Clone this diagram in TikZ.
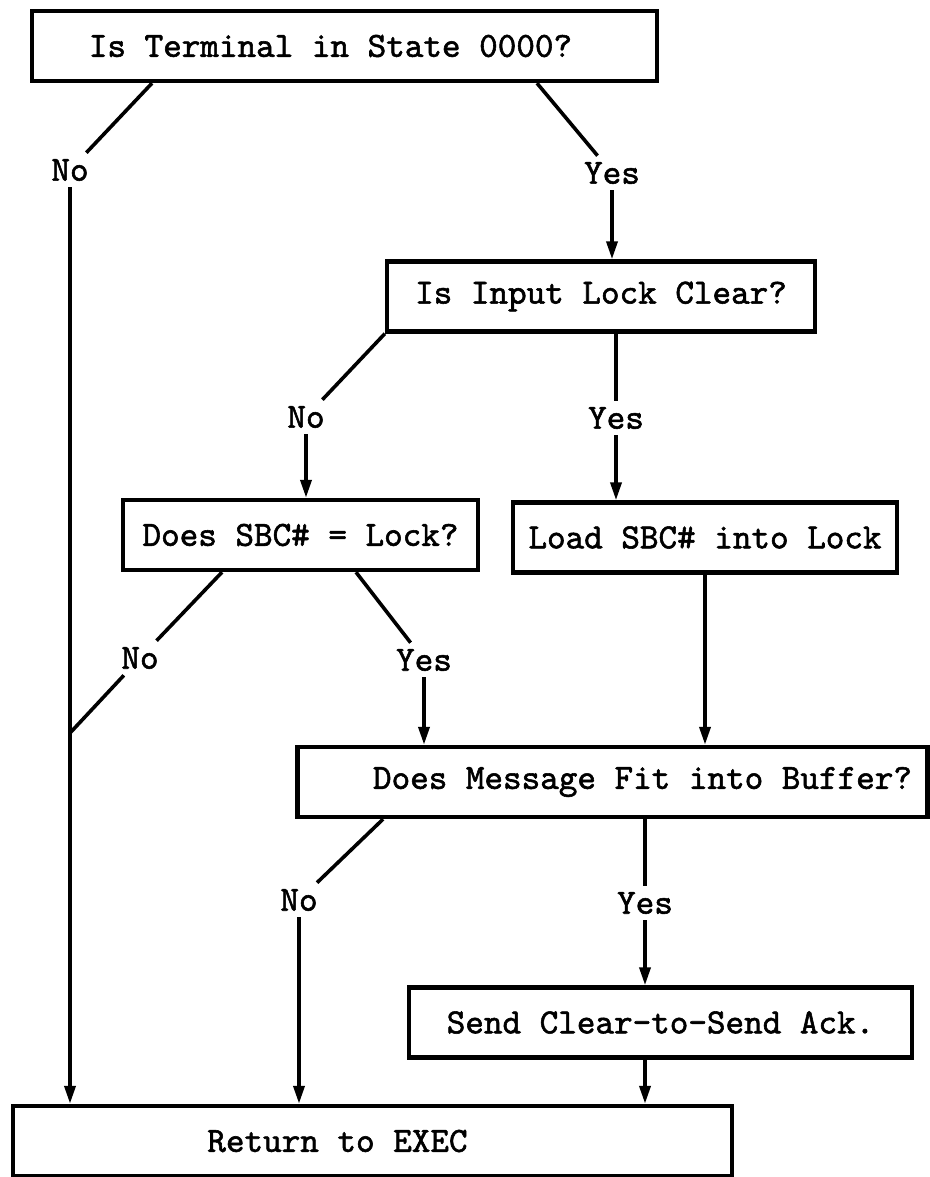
\documentclass[tikz,border=0pt]{standalone}
\usepackage{fontspec}
\newfontfamily\typer{lmmono10-regular.otf}[FakeBold=1.6]
\usetikzlibrary{arrows.meta}
\begin{document}
\begin{tikzpicture}[
  x=0.5pt, y=-0.5pt,
  font=\typer\fontsize{17.7}{20}\selectfont,
  box/.style={draw, line width=2.2pt, inner sep=0pt, minimum height=35pt},
  ans/.style={inner sep=3pt},
  link/.style={line width=1.8pt},
  >={Triangle[length=9pt,width=5.5pt]}
]
\useasboundingbox (0,0) rectangle (930,1177);
% boxes
\node[box, minimum width=312.5pt] (term) at (344.5,46) {Is Terminal in State 0000?\hspace*{14pt}};
\node[box, minimum width=214pt] (lock) at (601,296.5) {Is Input Lock Clear?};
\node[box, minimum width=177.5pt] (sbc) at (300.5,535) {Does SBC\# = Lock?};
\node[box, minimum width=192pt] (load) at (705,537.5) {Load SBC\# into Lock};
\node[box, minimum width=315pt] (fit) at (612.5,782) {\hspace*{30pt}Does Message Fit into Buffer?};
\node[box, minimum width=251.5pt] (ack) at (660.5,1022.5) {Send Clear-to-Send Ack.};
\node[box, minimum width=359.5pt] (exec) at (372.5,1141) {Return to EXEC\hspace*{35pt}};
% answers
\node[ans] (no1) at (70,170) {No};
\node[ans] (yes1) at (612,173) {Yes};
\node[ans] (no2) at (306,417) {No};
\node[ans] (yes2) at (616,418) {Yes};
\node[ans] (no3) at (140,658) {No};
\node[ans] (yes3) at (424,660) {Yes};
\node[ans] (no4) at (299,900) {No};
\node[ans] (yes4) at (645,903) {Yes};
\coordinate (join) at (70,733);
% connectors
\draw[link] (152,0 |- term.south) -- (no1);
\draw[link,->] (no1) -- (no1 |- exec.north);
\draw[link] (537,0 |- term.south) -- (yes1);
\draw[link,->] (yes1) -- (yes1 |- lock.north);
\draw[link] (lock.south west) -- (no2);
\draw[link,->] (no2) -- (no2 |- sbc.north);
\draw[link] (yes2 |- lock.south) -- (yes2);
\draw[link,->] (yes2) -- (yes2 |- load.north);
\draw[link] (222,0 |- sbc.south) -- (no3);
\draw[link] (no3) -- (join);
\draw[link] (356,0 |- sbc.south) -- (yes3);
\draw[link,->] (yes3) -- (yes3 |- fit.north);
\draw[link,->] (load) -- (load |- fit.north);
\draw[link] (383,0 |- fit.south) -- (no4);
\draw[link,->] (no4) -- (no4 |- exec.north);
\draw[link] (yes4 |- fit.south) -- (yes4);
\draw[link,->] (yes4) -- (yes4 |- ack.north);
\draw[link,->] (yes4 |- ack.south) -- (yes4 |- exec.north);
\end{tikzpicture}
\end{document}
